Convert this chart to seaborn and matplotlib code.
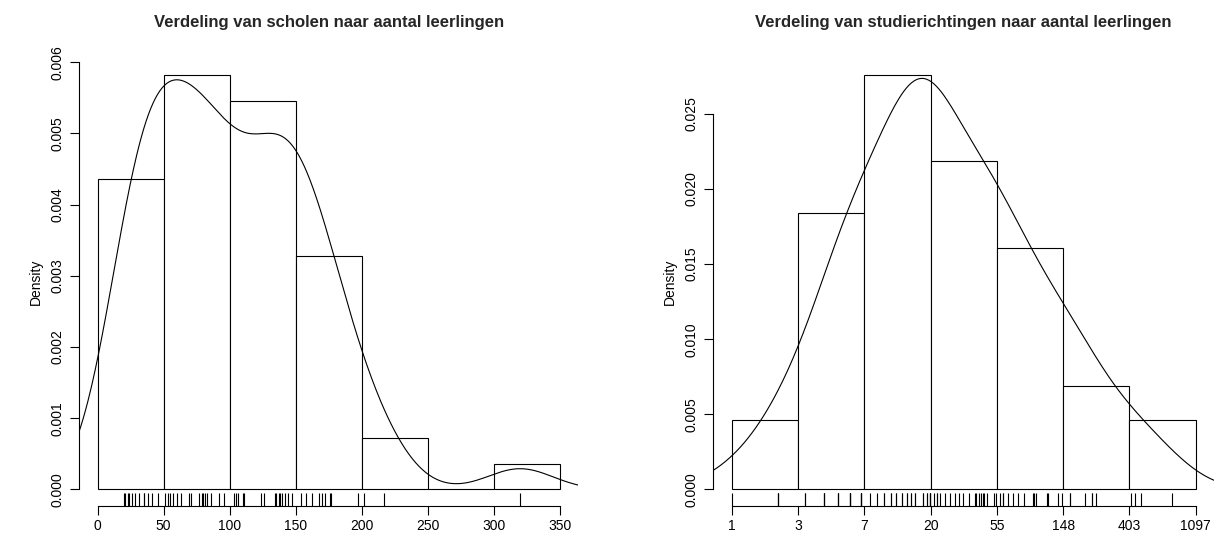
import numpy as np
import pandas as pd
import matplotlib
matplotlib.use("Agg")
import matplotlib.pyplot as plt
import seaborn as sns

# ---------------- data ----------------
# number of pupils per school (read from the rug)
school_sizes = [20, 21, 23, 24, 26, 28, 31, 35, 35, 38, 41, 46,
                51, 53, 55, 57, 60, 63, 69, 71, 77, 79, 80, 81, 83, 86, 92, 96,
                103, 105, 106, 110, 111, 124, 126, 134, 135, 137, 138, 140, 142, 144, 147,
                154, 158, 162, 168, 170, 172, 176, 177, 197,
                202, 217,
                320]
school_bins = [0, 50, 100, 150, 200, 250, 300, 350]
school_xticks = [0, 50, 100, 150, 200, 250, 300, 350]
school_yticks = [0.000, 0.001, 0.002, 0.003, 0.004, 0.005, 0.006]

# number of pupils per study programme (read from the rug, log scale)
program_sizes = [1, 2, 2, 2,
                 3, 3, 4, 4, 4, 5, 5, 5, 6, 6, 6, 6, 7, 7, 7, 7,
                 8, 9, 10, 10, 11, 11, 12, 12, 13, 13, 14, 14,
                 15, 15, 16, 16, 18, 18, 19, 19, 20, 20, 20, 20,
                 21, 22, 22, 23, 25, 27, 29, 31, 33, 36, 39, 40, 42, 43, 44, 45, 47, 52, 54,
                 57, 60, 60, 65, 70, 75, 82, 94, 96, 99, 116, 118, 138, 147,
                 164, 164, 206, 228, 228, 243,
                 415, 437, 478, 773]
program_log_bins = [0, 1, 2, 3, 4, 5, 6, 7]
program_tick_labels = ["1", "3", "7", "20", "55", "148", "403", "1097"]
program_yticks = [0.000, 0.005, 0.010, 0.015, 0.020, 0.025]

title_left = "Verdeling van scholen naar aantal leerlingen"
title_right = "Verdeling van studierichtingen naar aantal leerlingen"

# ---------------- style ----------------
sns.set_style("white")
plt.rcParams["font.family"] = ["Liberation Sans", "DejaVu Sans"]
plt.rcParams["axes.linewidth"] = 0.8

W, H = 1214, 541
fig = plt.figure(figsize=(W / 100, H / 100), dpi=100)
ax1 = fig.add_axes([79.2 / W, 35 / H, 499 / W, 447.5 / H])
ax2 = fig.add_axes([713.2 / W, 35 / H, 501 / W, 447.5 / H])


def nrd0_factor(x):
    x = np.asarray(x, float)
    sd = x.std(ddof=1)
    q75, q25 = np.percentile(x, [75, 25])
    lo = min(sd, (q75 - q25) / 1.34)
    return 0.9 * lo / sd * len(x) ** (-0.2)


def panel(ax, values, bins, xticks, xticklabels, yticks, title):
    values = np.asarray(values, float)
    df = pd.DataFrame({"v": values})
    sns.histplot(data=df, x="v", bins=bins, stat="density", ax=ax,
                 color="white", edgecolor="black", linewidth=0.8, alpha=1)
    sns.kdeplot(data=df, x="v", bw_method=nrd0_factor(values), cut=3,
                gridsize=512, ax=ax, color="black", linewidth=0.8)
    sns.rugplot(data=df, x="v", height=0.03, ax=ax, color="black",
                linewidth=0.8)
    dmax = np.histogram(values, bins=bins, density=True)[0].max()
    xr = bins[-1] - bins[0]
    ax.set_xlim(bins[0] - 0.04 * xr, bins[-1] + 0.04 * xr)
    ax.set_ylim(-0.04 * dmax, 1.04 * dmax)
    ax.set_xticks(xticks)
    ax.set_xticklabels(xticklabels)
    ax.set_yticks(yticks)
    ax.set_yticklabels([f"{t:.3f}" for t in yticks])
    for s in ["top", "right"]:
        ax.spines[s].set_visible(False)
    ax.spines["left"].set_bounds(yticks[0], yticks[-1])
    ax.spines["bottom"].set_bounds(xticks[0], xticks[-1])
    ax.spines["left"].set_color("black")
    ax.spines["bottom"].set_color("black")
    ax.tick_params(axis="both", direction="out", length=6.5, width=0.8,
                   color="black", labelsize=10, labelcolor="black",
                   bottom=True, left=True)
    ax.tick_params(axis="x", pad=3)
    ax.tick_params(axis="y", pad=4, labelrotation=90)
    for lab in ax.get_yticklabels():
        lab.set_va("center")
    ax.set_xlabel("")
    ax.set_ylabel("Density", fontsize=10, color="black")
    ax.yaxis.set_label_coords(-36 / 500, 0.5)
    ax.text(0.5, 1 + (58.5 - 22) / 447.5, title, transform=ax.transAxes,
            ha="center", va="center", fontsize=12, fontweight="bold")
    ax.patch.set_alpha(0)


panel(ax1, school_sizes, school_bins, school_xticks,
      [str(t) for t in school_xticks], school_yticks, title_left)

program_x = 10 * np.log(np.asarray(program_sizes, float))
program_bins10 = [10 * b for b in program_log_bins]
panel(ax2, program_x, program_bins10, program_bins10,
      program_tick_labels, program_yticks, title_right)

fig.savefig("out.png", dpi=100, facecolor="white")
